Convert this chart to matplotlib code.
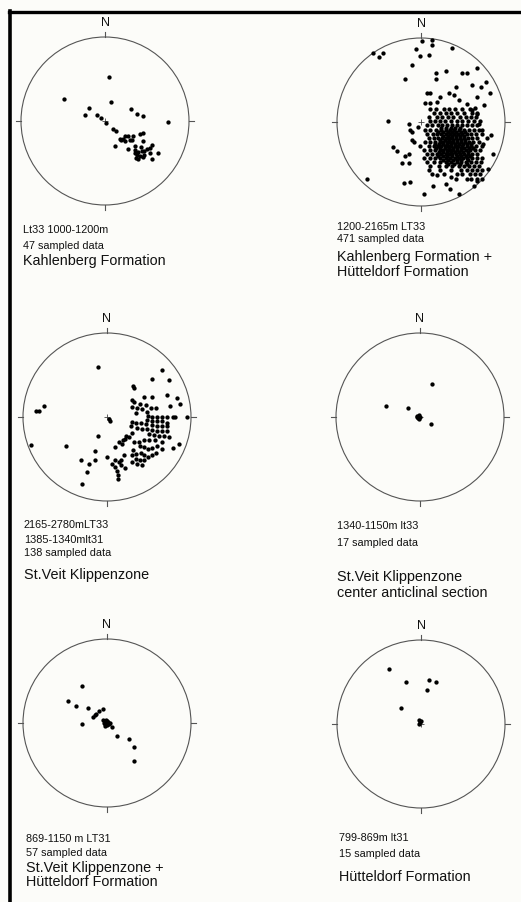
import numpy as np
import matplotlib
matplotlib.use("Agg")
import matplotlib.pyplot as plt
from matplotlib.patches import Circle
from matplotlib.lines import Line2D

plt.rcParams['font.family'] = ['Liberation Sans', 'DejaVu Sans']

# projected pole positions (east, north) on an equal-area net of radius 250
NET_R = 250.0

lt33_1000_1200 = [
    (11, 130), (-121, 65), (18, 57), (-47, 38), (-59, 18), (77, 35), (96, 21), (114, 15),
    (187, -2), (-24, 18), (-11, 9), (3, -6), (24, -23), (34, -30), (104, -40), (114, -37),
    (59, -46), (69, -46), (84, -46), (49, -56), (59, -60), (74, -58), (114, -61), (29, -75),
    (69, -84), (89, -75), (89, -85), (134, -80), (141, -71), (109, -90), (115, -90), (134, -96),
    (157, -94), (94, -100), (104, -103), (117, -100), (91, -110), (99, -113), (114, -108),
    (139, -113), (45, -53), (54, -53), (107, -78), (79, -58), (124, -83), (99, -93), (89, -96),
]

lt33_1200_2165_scatter = [
    (4, 240), (33, 245), (32, 228), (-15, 218), (-4, 197), (23, 198), (92, 219), (-144, 205),
    (-114, 205), (-124, 193), (-26, 171), (168, 162), (73, 153), (46, 145), (123, 147),
    (138, 145), (46, 127), (-47, 127), (193, 120), (103, 105), (153, 110), (206, 87),
    (178, 103), (18, 87), (28, 87), (83, 85), (98, 80), (58, 75), (13, 57), (26, 57), (48, 60),
    (113, 65), (138, 55), (168, 75), (188, 50), (-97, 3), (-37, -7), (-32, -23), (-27, -30),
    (-9, -15), (-82, -75), (-72, -87), (-57, -123), (-37, -123), (-37, -95), (-47, -100),
    (-162, -170), (-52, -183), (-32, -180), (8, -213), (36, -190), (48, -157), (73, -185),
    (86, -200), (113, -215), (88, -163), (108, -155), (138, -170), (158, -190), (168, -175),
    (198, -140), (213, -95), (208, -40), (196, -48), (173, -5), (168, 25), (153, 35),
    (161, 43), (183, -25), (186, -65), (-22, -60), (-4, -70), (-27, -53),
]

# the dense SE maximum, read band by band (north value: list of east values)
lt33_1200_2165_cluster = {
    40: [28, 46, 68, 83, 100, 123, 146],
    27: [40, 58, 75, 90, 108, 128, 153, 166],
    15: [23, 48, 63, 80, 96, 116, 133, 148, 163],
    3: [28, 43, 58, 71, 90, 106, 121, 140, 158, 176],
    -10: [18, 33, 50, 63, 78, 93, 108, 123, 136, 153, 168],
    -17: [60, 74, 88, 102, 116],
    -23: [13, 28, 46, 60, 73, 86, 98, 113, 128, 143, 158, 173],
    -29: [52, 66, 80, 92, 104, 118, 132],
    -35: [18, 35, 48, 61, 73, 86, 98, 110, 123, 138, 150, 165, 183],
    -41: [66, 80, 92, 104, 116, 128],
    -47: [23, 38, 52, 63, 73, 83, 93, 103, 116, 128, 140, 153, 168],
    -53: [58, 70, 82, 94, 106, 118, 132],
    -59: [13, 28, 43, 56, 66, 76, 86, 96, 106, 118, 130, 143, 156, 173],
    -65: [42, 55, 66, 78, 90, 102, 114, 126, 138, 150],
    -71: [23, 38, 50, 60, 70, 80, 90, 100, 110, 123, 136, 148, 163, 183],
    -77: [46, 58, 70, 82, 94, 106, 118, 128, 142, 154],
    -83: [8, 28, 43, 56, 66, 76, 86, 96, 108, 120, 133, 146, 160, 176],
    -89: [54, 66, 78, 90, 102, 114, 126, 140],
    -95: [18, 33, 48, 61, 73, 83, 93, 103, 116, 128, 140, 153, 168],
    -101: [50, 64, 78, 92, 106, 120, 134, 146],
    -107: [8, 26, 43, 58, 73, 86, 100, 113, 126, 138, 153, 168, 183],
    -113: [66, 80, 94, 108, 120, 140],
    -119: [18, 38, 56, 73, 90, 106, 120, 133, 148, 163, 178],
    -125: [80, 98, 116, 138],
    -131: [28, 53, 73, 93, 113, 128, 143, 158, 173],
    -143: [23, 58, 88, 118, 138, 153, 168, 183],
    -155: [33, 68, 123, 146, 160, 176],
    -170: [103, 148, 168, 183],
}

lt33_lt31_stveit = [
    (-26, 148), (163, 140), (185, 109), (135, 114), (77, 93), (81, 86), (180, 65), (207, 56),
    (218, 38), (187, 33), (135, 61), (110, 61), (75, 51), (80, 46), (97, 38), (115, 36),
    (130, 26), (147, 26), (-210, 19), (-203, 18), (-187, 33), (239, 0), (5, -7), (10, -11),
    (75, 31), (90, 26), (105, 23), (120, 16), (85, 11), (123, 3), (135, 1), (150, 1), (165, 1),
    (180, 1), (195, 1), (203, 1), (120, -9), (133, -12), (148, -12), (165, -12), (180, -17),
    (75, -14), (85, -19), (100, -19), (115, -22), (135, -25), (150, -27), (165, -27),
    (180, -27), (70, -27), (90, -32), (105, -35), (120, -37), (135, -39), (150, -42),
    (165, -42), (180, -42), (125, -51), (140, -54), (155, -57), (170, -57), (185, -59),
    (75, -49), (65, -59), (55, -64), (47, -69), (37, -74), (57, -57), (25, -89), (45, -81),
    (80, -74), (95, -74), (110, -69), (125, -67), (143, -69), (165, -74), (97, -87),
    (110, -89), (123, -94), (135, -91), (150, -87), (163, -94), (195, -91), (213, -79),
    (77, -97), (87, -109), (100, -107), (110, -114), (123, -119), (135, -114), (145, -107),
    (75, -112), (85, -124), (97, -129), (110, -127), (75, -134), (90, -139), (105, -144),
    (55, -151), (43, -127), (50, -114), (37, -134), (25, -129), (15, -139), (25, -149),
    (30, -161), (33, -174), (33, -186), (0, -119), (-225, -82), (-123, -86), (-37, -102),
    (-28, -56), (-76, -127), (-53, -139), (-37, -129), (-60, -164), (-73, -199), (43, -142),
]

lt33_1340_1150 = [
    (37, 98), (-100, 34), (-35, 27), (-8, 2), (-3, 5), (-5, -3), (0, 0), (-10, -1),
    (-4, -6), (33, -20),
]

lt31_869_1150 = [
    (-73, 109), (-117, 64), (-91, 50), (-57, 45), (-75, -2), (-41, 18), (-37, 25), (-33, 27),
    (-23, 35), (-13, 41), (-13, 9), (-7, 6), (-3, 9), (-10, 1), (-3, -1), (3, 3), (0, -7),
    (5, -4), (8, -1), (15, -12), (-5, -9), (30, -39), (65, -47), (80, -71), (80, -112),
    (0, 6), (-7, -4),
]

lt31_799_869 = [
    (-95, 163), (-46, 125), (23, 131), (45, 125), (17, 102), (-59, 47), (-6, 12), (0, 10),
    (-5, 1), (-3, 6),
]

cluster_pts = [(e, n) for n, row in lt33_1200_2165_cluster.items() for e in row]

# panel centre in pixels, poles, label lines (small), formation lines (large)
panels = [
    ((105, 121), lt33_1000_1200,
     ["Lt33 1000-1200m", "47 sampled data"], [230, 246],
     ["Kahlenberg Formation"], [261], 23),
    ((421, 122), lt33_1200_2165_scatter + cluster_pts,
     ["1200-2165m LT33", "471 sampled data"], [227, 239],
     ["Kahlenberg Formation +", "Hütteldorf Formation"], [257, 272], 337),
    ((107, 417), lt33_lt31_stveit,
     ["2165-2780mLT33", "1385-1340mlt31", "138 sampled data"], [525, 540, 553],
     ["St.Veit Klippenzone"], [575], 24),
    ((420, 417), lt33_1340_1150,
     ["1340-1150m lt33", "17 sampled data"], [526, 543],
     ["St.Veit Klippenzone", "center anticlinal section"], [577, 593], 337),
    ((107, 723), lt31_869_1150,
     ["869-1150 m LT31", "57 sampled data"], [839, 853],
     ["St.Veit Klippenzone +", "Hütteldorf Formation"], [868, 882], 26),
    ((421, 724), lt31_799_869,
     ["799-869m lt31", "15 sampled data"], [838, 854],
     ["Hütteldorf Formation"], [877], 339),
]

W, H = 521, 902
R = 84
PAD = 1.25

fig = plt.figure(figsize=(W / 100, H / 100), dpi=100)
fig.patch.set_facecolor('#fcfcf9')

for (cx, cy), poles, small, small_y, big, big_y, tx in panels:
    ax = fig.add_axes([(cx - PAD * R) / W, 1 - (cy + PAD * R) / H,
                       2 * PAD * R / W, 2 * PAD * R / H])
    ax.set_xlim(-PAD, PAD)
    ax.set_ylim(-PAD, PAD)
    ax.set_aspect('equal')
    ax.axis('off')

    ax.add_patch(Circle((0, 0), 1, fill=False, lw=0.8, ec='#555555'))
    for dx, dy in [(0, 1), (1, 0), (0, -1), (-1, 0)]:
        ax.plot([dx, dx * 1.06], [dy, dy * 1.06], color='#555555', lw=0.8)
    ax.text(0, 1.165, "N", ha='center', va='center', fontsize=9, color='#111111')
    ax.plot(0, 0, marker='+', ms=5, mew=0.6, color='#444444')

    pts = np.array(poles, dtype=float) / NET_R
    ax.plot(pts[:, 0], pts[:, 1], 'o', ms=3.1, mew=0, color='black')

    for s, y in zip(small, small_y):
        fig.text(tx / W, 1 - y / H, s, ha='left', va='center', fontsize=7.8, color='#111111')
    for s, y in zip(big, big_y):
        fig.text(tx / W, 1 - y / H, s, ha='left', va='center', fontsize=10.4, color='#111111')

# frame along the top and left edge
fig.add_artist(Line2D([9 / W, 1], [1 - 12 / H, 1 - 12 / H], color='black', lw=2.4))
fig.add_artist(Line2D([10 / W, 10 / W], [0, 1 - 11 / H], color='black', lw=2.6))

fig.savefig("out.png", dpi=100, facecolor=fig.get_facecolor())
